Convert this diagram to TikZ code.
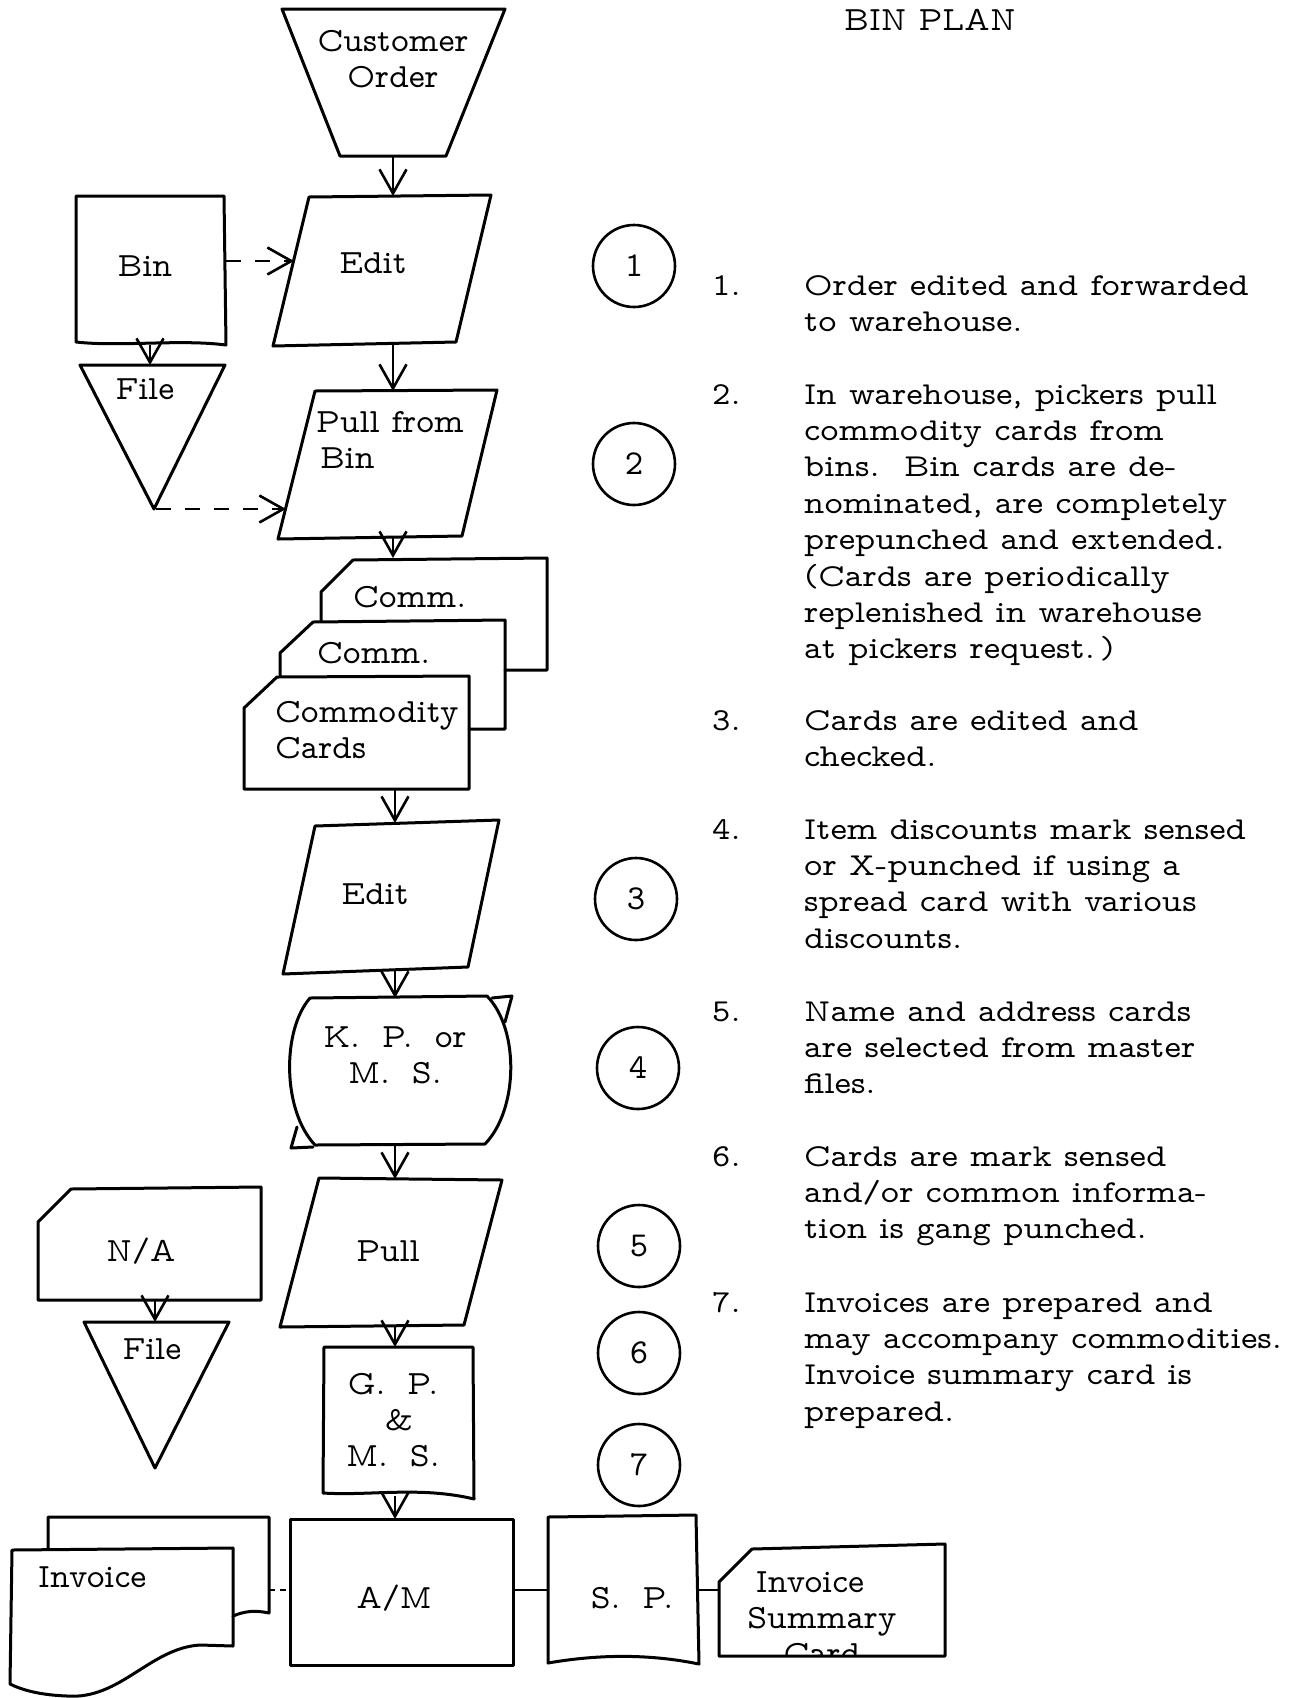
\documentclass[tikz,border=0pt]{standalone}
\usepackage{fontspec}
\newfontfamily\twfont{lmmonoprop10-regular.otf}
\newfontfamily\twwidefont[FakeStretch=1.09]{lmmonoprop10-regular.otf}
\usetikzlibrary{arrows.meta}
\newcommand{\lblfont}{\twfont\fontsize{34}{36}\selectfont}
\newcommand{\descfont}{\twwidefont\fontsize{32}{36.4}\selectfont}
\newcommand{\numfont}{\twfont\fontsize{35}{36}\selectfont}
\newcommand{\gap}{\hspace*{22pt}}

\begin{document}
\begin{tikzpicture}[x=1pt,y=-1pt,
  outline/.style={line width=3pt, line join=round, line cap=round},
  flow/.style={line width=2.6pt, -{Straight Barb[length=24pt,width=27pt]}},
  dflow/.style={flow, dash pattern=on 15pt off 14pt},
  label/.style={font=\lblfont, inner sep=0pt, align=center},
  desc/.style={font=\descfont, inner sep=0pt, align=left, anchor=north west},
  num/.style={font=\descfont, inner sep=0pt, anchor=base west},
  stepno/.style={draw, circle, line width=2.6pt, minimum size=82pt, inner sep=0pt, font=\numfont}]
\useasboundingbox (0,0) rectangle (1296,1698);

% ---------- title ----------
\node[label] (title) at (930,20) {BIN PLAN};

% ---------- customer order (input trapezoid) ----------
\draw[outline] (282,9) -- (505,9) -- (446,156) -- (340,156) -- cycle;
\node[label] (co) at (393,59) {Customer\\Order};
\coordinate (co-s) at (393,156);

% ---------- edit 1 ----------
\draw[outline] (309,197) -- (491,195) -- (456,342) -- (273,346) -- cycle;
\node[label] (edit1) at (373,263) {Edit};
\coordinate (edit1-n) at (393,196);
\coordinate (edit1-w) at (294,261);
\coordinate (edit1-s) at (393,344);

% ---------- bin (document) ----------
\draw[outline] (76,196) -- (224,196) -- (226,345)
  .. controls (180,339) and (120,347) .. (76,342) -- cycle;
\node[label] (bin) at (145,266) {Bin};
\coordinate (bin-e) at (226,261);
\coordinate (bin-s) at (150,345);

% ---------- file 1 ----------
\draw[outline] (80,365) -- (225,365) -- (154,509) -- cycle;
\node[label] (file1) at (145,389) {File};
\coordinate (file1-n) at (150,365);
\coordinate (file1-s) at (156,509);

% ---------- pull from bin ----------
\draw[outline] (315,391) -- (497,390) -- (462,536) -- (278,539) -- cycle;
\node[label, align=left, anchor=west] (pullbin) at (316,440) {Pull from\\\hspace{4pt}Bin};
\coordinate (pullbin-n) at (393,391);
\coordinate (pullbin-w) at (286,509);
\coordinate (pullbin-s) at (393,538);

% ---------- commodity card deck ----------
\draw[outline] (321,621) -- (321,592) -- (353,560) -- (547,558) -- (547,670) -- (505,670);
\draw[outline] (280,676) -- (280,653) -- (313,622) -- (505,620) -- (505,729) -- (469,729);
\draw[outline] (244,789) -- (244,708) -- (277,677) -- (469,676) -- (469,789) -- cycle;
\node[label, anchor=west] (comm1) at (353,597) {Comm.};
\node[label, anchor=west] (comm2) at (317,653) {Comm.};
\node[label, align=left, anchor=west] (cards) at (275,730) {Commodity\\Cards};
\coordinate (deck-n) at (393,558);
\coordinate (deck-s) at (395,789);

% ---------- edit 2 ----------
\draw[outline] (315,826) -- (499,820) -- (468,967) -- (283,974) -- cycle;
\node[label] (edit2) at (375,894) {Edit};
\coordinate (edit2-n) at (395,823);
\coordinate (edit2-s) at (395,971);

% ---------- key punch / mark sense ----------
\draw[outline] (310,998) -- (487,996) .. controls (520,1030) and (518,1110) .. (485,1144)
  -- (315,1145) .. controls (282,1110) and (282,1030) .. (310,998) -- cycle;
\draw[outline] (492,998) -- (512,996) -- (505,1022);
\draw[outline] (297,1127) -- (291,1148) -- (313,1147);
\node[label] (kp) at (395,1055) {K.\gap P.\gap or\\M.\gap S.};
\coordinate (kp-n) at (395,998);
\coordinate (kp-s) at (395,1145);

% ---------- pull ----------
\draw[outline] (319,1178) -- (502,1180) -- (464,1325) -- (280,1327) -- cycle;
\node[label] (pull) at (388,1251) {Pull};
\coordinate (pull-n) at (395,1179);
\coordinate (pull-s) at (395,1326);

% ---------- name and address card ----------
\draw[outline] (38,1300) -- (38,1222) -- (71,1189) -- (261,1187) -- (261,1300) -- cycle;
\node[label] (na) at (141,1251) {N/A};
\coordinate (na-s) at (155,1300);

% ---------- file 2 ----------
\draw[outline] (84,1322) -- (229,1322) -- (155,1468) -- cycle;
\node[label] (file2) at (152,1349) {File};
\coordinate (file2-n) at (155,1322);

% ---------- gang punch & mark sense (document) ----------
\draw[outline] (324,1347) -- (473,1347) -- (474,1499)
  .. controls (420,1486) and (370,1496) .. (323,1493) -- cycle;
\node[label] (gp) at (393,1420) {G.\gap P.\\\hspace*{12pt}\&\\M.\gap S.};
\coordinate (gp-n) at (395,1347);
\coordinate (gp-s) at (395,1496);

% ---------- accounting machine ----------
\draw[outline] (290,1519) rectangle (513,1665);
\node[label] (am) at (394,1598) {A/M};
\coordinate (am-n) at (395,1519);
\coordinate (am-w) at (290,1590);
\coordinate (am-e) at (513,1590);

% ---------- summary punch (document) ----------
\draw[outline] (548,1517) -- (696,1515) -- (699,1664)
  .. controls (650,1654) and (600,1654) .. (548,1663) -- cycle;
\node[label] (sp) at (632,1598) {S.\gap P.};
\coordinate (sp-w) at (548,1590);
\coordinate (sp-e) at (697,1590);

% ---------- invoice summary card ----------
\draw[outline] (719,1656) -- (719,1582) -- (752,1549) -- (945,1544) -- (945,1656) -- cycle;
\begin{scope}
  \clip (721,1654) -- (721,1583) -- (753,1551) -- (943,1546) -- (943,1654) -- cycle;
  \node[label] (isc) at (822,1618) {Invoice\hspace*{24pt}\\Summary\\Card};
\end{scope}
\coordinate (isc-w) at (719,1590);

% ---------- invoice documents ----------
\draw[outline] (48,1549) -- (48,1517) -- (269,1517) -- (269,1613)
  .. controls (255,1610) and (245,1611) .. (233,1616);
\draw[outline] (12,1550) -- (233,1548) -- (233,1646) -- (200,1645)
  .. controls (150,1648) and (120,1700) .. (67,1696)
  .. controls (40,1695) and (22,1690) .. (10,1684) -- cycle;
\node[label, anchor=west] (inv) at (38,1577) {Invoice};
\coordinate (inv-e) at (269,1590);

% ---------- connectors ----------
\draw[flow] (co-s) -- (edit1-n);
\draw[dflow] (bin-e) -- (edit1-w);
\draw[flow] (bin-s) -- (file1-n);
\draw[dflow] (file1-s) -- (pullbin-w);
\draw[flow] (edit1-s) -- (pullbin-n);
\draw[flow] (pullbin-s) -- (deck-n);
\draw[flow] (deck-s) -- (edit2-n);
\draw[flow] (edit2-s) -- (kp-n);
\draw[flow] (kp-s) -- (pull-n);
\draw[flow] (na-s) -- (file2-n);
\draw[flow] (pull-s) -- (gp-n);
\draw[flow] (gp-s) -- (am-n);
\draw[line width=2.6pt, dash pattern=on 6pt off 5pt] (inv-e) -- (am-w);
\draw[line width=2.6pt] (am-e) -- (sp-w);
\draw[line width=2.6pt] (sp-e) -- (isc-w);

% ---------- step markers ----------
\node[stepno] (s1) at (634,266) {1};
\node[stepno] (s2) at (634,464) {2};
\node[stepno] (s3) at (636,899) {3};
\node[stepno] (s4) at (638,1068) {4};
\node[stepno] (s5) at (639,1246) {5};
\node[stepno] (s6) at (639,1353) {6};
\node[stepno] (s7) at (639,1465) {7};

% ---------- step descriptions ----------
\node[num] (n1) at (712,295) {1.};
\node[desc] (d1) at (804,269.5) {\strut Order edited and forwarded\\to warehouse.};
\node[num] (n2) at (712,404) {2.};
\node[desc] (d2) at (804,378.5) {\strut In warehouse, pickers pull\\commodity cards from\\bins.\ \ Bin cards are de-\\nominated, are completely\\prepunched and extended.\\(Cards are periodically\\replenished in warehouse\\at pickers request.\,)};
\node[num] (n3) at (712,730) {3.};
\node[desc] (d3) at (804,704.5) {\strut Cards are edited and\\checked.};
\node[num] (n4) at (712,839) {4.};
\node[desc] (d4) at (804,813.5) {\strut Item discounts mark sensed\\or X-punched if using a\\spread card with various\\discounts.};
\node[num] (n5) at (712,1021) {5.};
\node[desc] (d5) at (804,995.5) {\strut Name and address cards\\are selected from master\\files.};
\node[num] (n6) at (712,1166) {6.};
\node[desc] (d6) at (804,1140.5) {\strut Cards are mark sensed\\and/or common informa-\\tion is gang punched.};
\node[num] (n7) at (712,1312) {7.};
\node[desc] (d7) at (804,1286.5) {\strut Invoices are prepared and\\may accompany commodities.\\Invoice summary card is\\prepared.};
\end{tikzpicture}
\end{document}
